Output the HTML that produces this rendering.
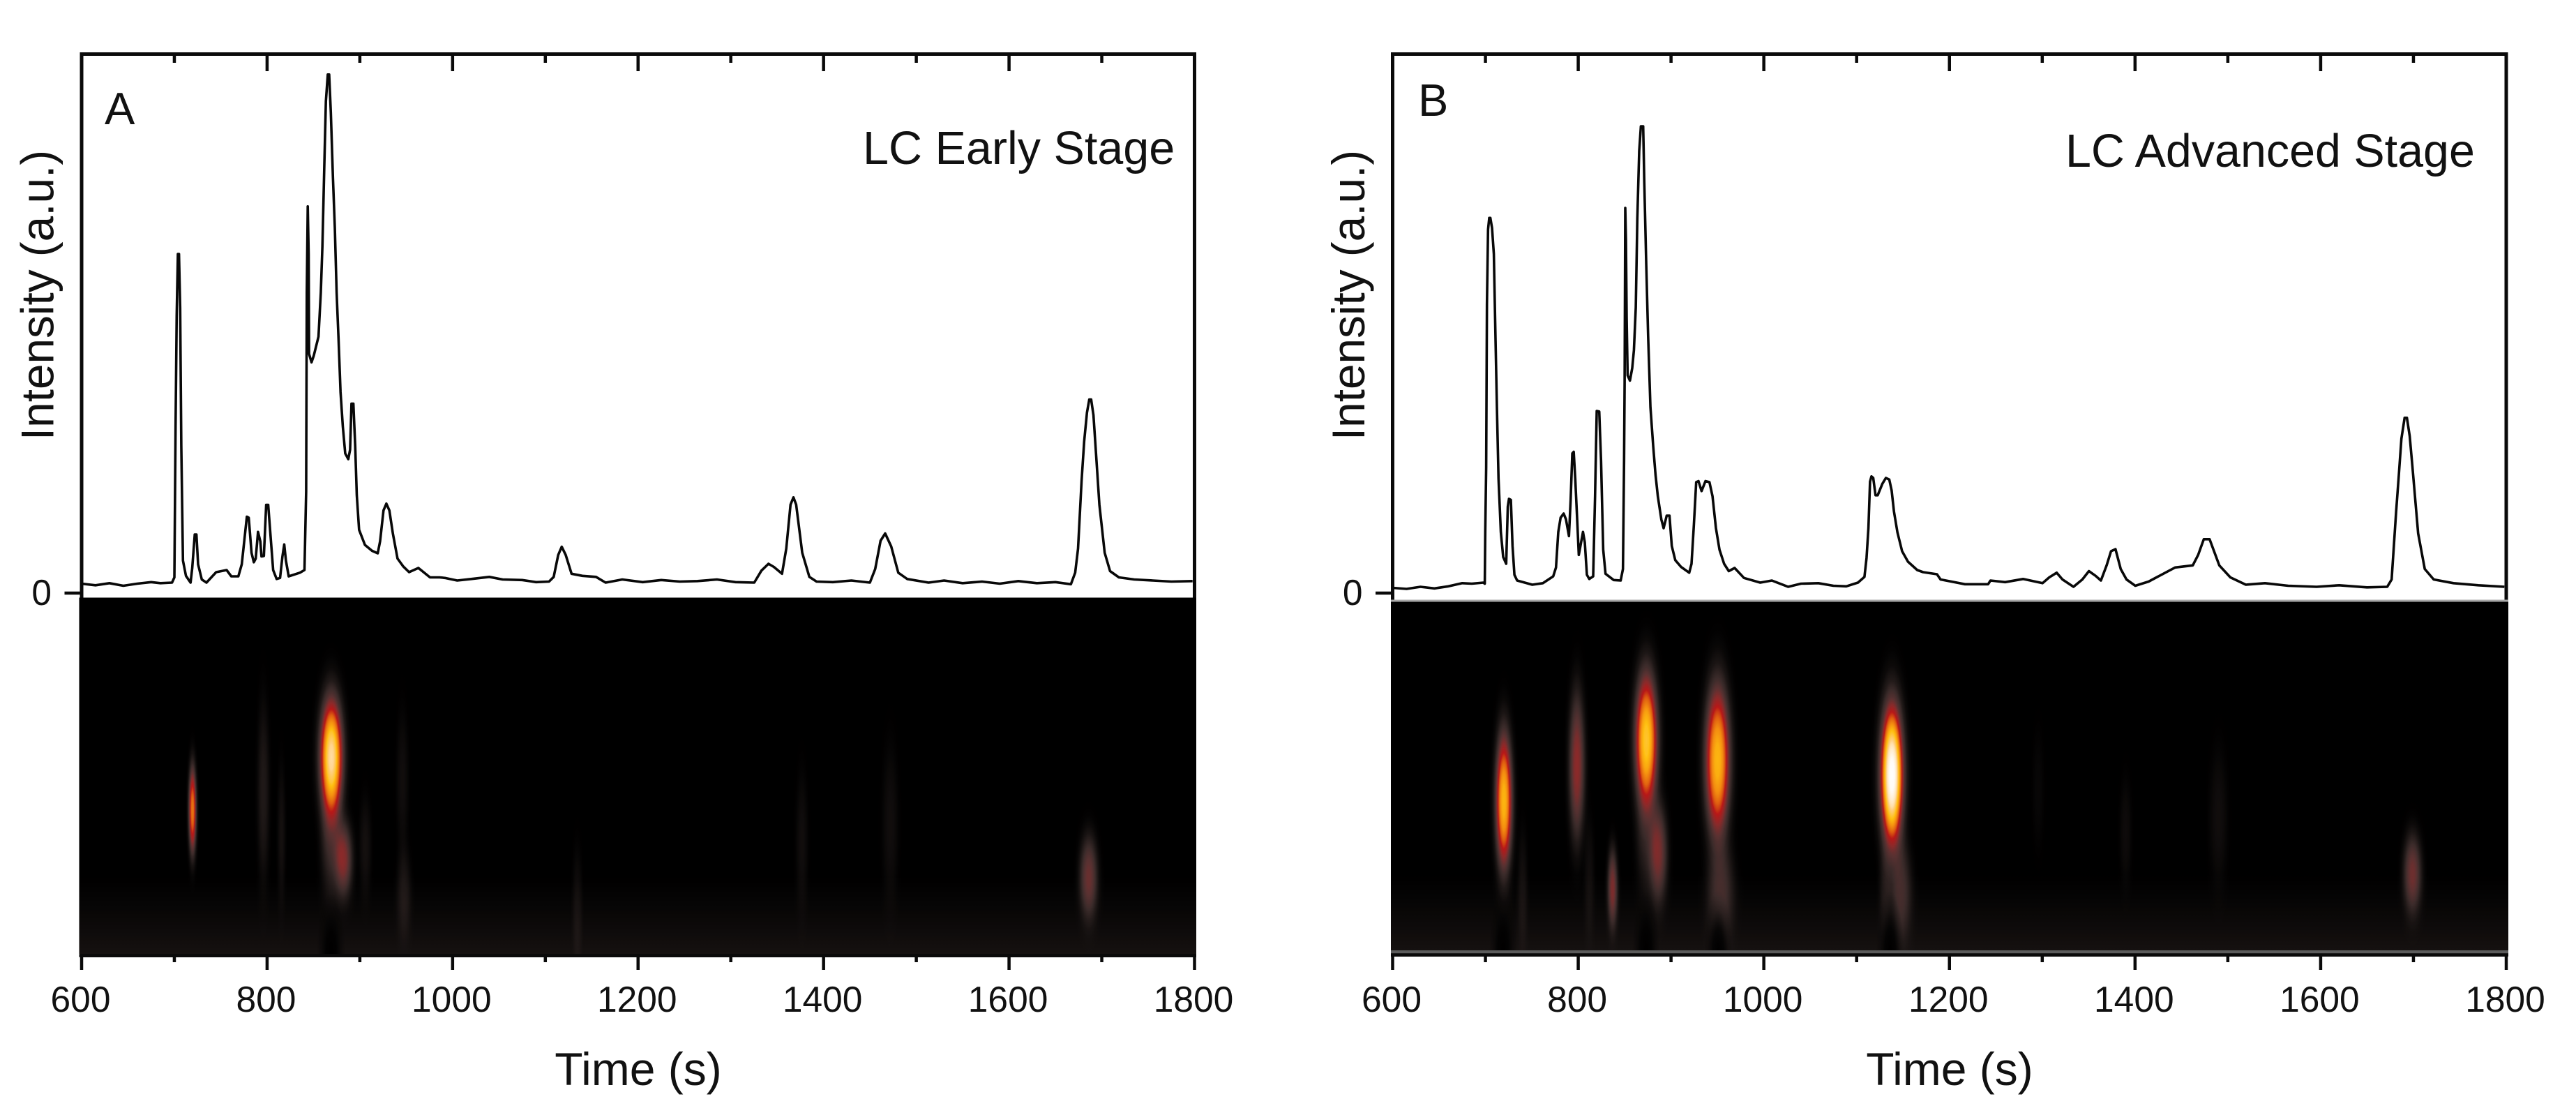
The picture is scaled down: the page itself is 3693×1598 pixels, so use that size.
<!DOCTYPE html>
<html lang="en">
<head>
<meta charset="utf-8">
<title>LC Early and Advanced Stage chromatograms</title>
<style>
html,body{margin:0;padding:0;background:#fff;width:3693px;height:1598px;overflow:hidden}
svg{display:block;position:absolute;left:0;top:0}
text{font-family:"Liberation Sans",sans-serif;fill:#111}
</style>
</head>
<body>
<svg id="figure" xmlns="http://www.w3.org/2000/svg" width="3693" height="1598" viewBox="0 0 3693 1598">
  <defs>
    <radialGradient id="spot-gradient">
      <stop offset="0" stop-color="#fff" stop-opacity="1"/>
      <stop offset=".1" stop-color="#fff" stop-opacity=".98"/>
      <stop offset=".2" stop-color="#fff" stop-opacity=".886"/>
      <stop offset=".3" stop-color="#fff" stop-opacity=".705"/>
      <stop offset=".4" stop-color="#fff" stop-opacity=".479"/>
      <stop offset=".5" stop-color="#fff" stop-opacity=".268"/>
      <stop offset=".6" stop-color="#fff" stop-opacity=".121"/>
      <stop offset=".7" stop-color="#fff" stop-opacity=".043"/>
      <stop offset=".8" stop-color="#fff" stop-opacity=".012"/>
      <stop offset=".9" stop-color="#fff" stop-opacity=".002"/>
      <stop offset="1" stop-color="#fff" stop-opacity="0"/>
    </radialGradient>
    <radialGradient id="notch-gradient">
      <stop offset="0" stop-color="#000" stop-opacity="1"/>
      <stop offset=".4" stop-color="#000" stop-opacity=".8"/>
      <stop offset=".7" stop-color="#000" stop-opacity=".3"/>
      <stop offset="1" stop-color="#000" stop-opacity="0"/>
    </radialGradient>
    <linearGradient id="glow-gradient" x1="0" y1="0" x2="0" y2="1">
      <stop offset="0" stop-color="#fff" stop-opacity="0"/>
      <stop offset=".45" stop-color="#fff" stop-opacity=".03"/>
      <stop offset="1" stop-color="#fff" stop-opacity=".075"/>
    </linearGradient>
    <filter id="heat-colormap" filterUnits="userSpaceOnUse" x="0" y="800" width="3693" height="700" color-interpolation-filters="sRGB">
      <feComponentTransfer>
        <feFuncR type="table" tableValues="0 .114 .231 .353 .549 .722 .878 .96 1 1 1"/>
        <feFuncG type="table" tableValues="0 .09 .169 .196 .165 .094 .376 .565 .753 .812 1"/>
        <feFuncB type="table" tableValues="0 .086 .165 .196 .165 .094 .063 .063 .063 .5 1"/>
      </feComponentTransfer>
    </filter>
    <clipPath id="clip-heat-a"><rect x="113.5" y="856.5" width="1601.5" height="511"/></clipPath>
    <clipPath id="clip-heat-b"><rect x="1994" y="862.5" width="1602" height="499.5"/></clipPath>
  </defs>

  <text x="150" y="178" font-size="65">A</text>
  <text x="1237" y="235" font-size="66.5">LC Early Stage</text>
  <text transform="translate(76.5 423) rotate(-90)" text-anchor="middle" font-size="65.7">Intensity (a.u.)</text>
  <text x="915" y="1555" text-anchor="middle" font-size="66">Time (s)</text>

  <text x="2033" y="166" font-size="65">B</text>
  <text x="2961" y="239" font-size="66.4">LC Advanced Stage</text>
  <text transform="translate(1956 423) rotate(-90)" text-anchor="middle" font-size="65.7">Intensity (a.u.)</text>
  <text x="2795" y="1555" text-anchor="middle" font-size="66">Time (s)</text>
</svg>

<script>
// Shared axis data
const majorTicks = [600, 800, 1000, 1200, 1400, 1600, 1800];
const minorTicks = [700, 900, 1100, 1300, 1500, 1700];
const majorTickLabels = ["600", "800", "1000", "1200", "1400", "1600", "1800"];
const yTicks = [0];
const yTickLabels = ["0"];

// Panel A chromatogram: retention time (s) and intensity (a.u.)
const timeA = [600,615,630,645,660,675,685,697.5,700,701.3,702.5,703.8,705,706.3,707.5,709.3,712.5,717.5,719.3,722,723.8,725.6,729.6,734.6,745.1,756.4,761.4,769,772.7,778.2,780.2,783.2,785.7,787.7,790.2,792.7,794,796.5,799,801.2,803.2,806.5,810.3,814,816.5,818.5,820.3,823.3,835.3,840.3,842.1,842.8,843.8,844.8,845.3,847.9,850.4,855.4,857.9,859.6,861.6,863.4,865.4,866.9,868.7,871,873,875,877,879.2,881.7,884.2,887.5,889.5,891,893,895,896.7,899.2,905.5,913,919.3,921.8,925.5,928.6,931.8,935.6,940.6,946.8,953.1,963.1,975.7,986,991.6,1005,1020,1039.6,1054,1075,1090,1104,1109,1113.9,1117.7,1122,1128.3,1140,1154.7,1165,1183,1205,1225,1245,1264,1285,1305,1325.3,1333,1340.6,1346.4,1355.2,1359.8,1364.4,1367.5,1370.5,1377,1384.7,1392.4,1410,1430,1450,1455.7,1461.5,1466.4,1473,1480.6,1490.2,1513.2,1530,1550,1570.8,1590,1610,1630,1650,1666.7,1671.3,1674.4,1678.2,1681,1684,1686.5,1688.5,1691,1694,1697.4,1703.1,1708.9,1718.5,1735,1755,1775,1797.9];
const intensityA = [1.8,1.5,1.9,1.4,1.8,2.1,1.9,2,3,31.8,53,64.8,64.8,54.5,28.2,6.2,3.3,2,4.8,11.2,11.2,5.5,2.6,2,4,4.4,3.2,3.2,5.5,14.6,14.4,7.7,5.9,6.6,11.7,9.9,7,7.1,16.85,16.85,12.1,4.4,2.7,2.9,7,9.3,6.2,3.2,3.9,4.4,19.4,57.4,73.9,64.8,45.7,44.1,45.4,49,57.4,66.2,80.9,94,99.1,99.1,91.8,79.4,69.9,57.4,48.7,38.4,31.8,26.7,25.6,27.4,36.2,36.2,28.2,18.7,12.1,9.2,8.1,7.6,9.9,15.8,17.1,15.8,11.4,6.6,5.1,4,4.8,3,3,2.9,2.4,2.7,3.1,2.6,2.5,2.1,2.2,3.1,7.3,8.85,7.3,3.7,3.3,3.1,2,2.6,2.1,2.5,2.2,2.3,2.6,2.1,2,4.3,5.6,5,3.7,8.5,16.9,18.3,16.9,7.7,3.1,2.2,2.1,2.4,2,4.6,10,11.4,8.9,3.9,2.7,2,2.4,1.9,2.2,1.8,2.3,1.9,2.1,1.7,3.9,8.5,21.5,29,34.5,37,37,34,26,16.9,7.7,4.2,3,2.6,2.4,2.2,2.3];

// Panel B chromatogram: retention time (s) and intensity (a.u.)
const timeB = [600,615,630,645,660,675,685.3,697.8,699.3,699.8,700.8,701.6,702.8,704.1,705.3,707.1,709.1,710.4,712.4,714.1,716.6,719.1,722.4,724.1,725.4,727.4,729.2,731.2,734.2,750.5,762,773,776,778.5,781,784.3,786.8,790,791.8,793.6,795.1,796.8,798.6,800.6,803.1,805.1,807.1,809.3,811.9,816.1,818.1,819.9,822.6,824.6,826.9,829.4,838.2,845.7,848.2,849.4,850,850.7,851.4,852.2,853.2,855.7,858.2,860,862,863.7,865.7,867.5,870,871.2,873.3,875.3,877.8,880.8,883.3,885.8,889.5,892,895.3,898.3,900.8,904.6,910.8,919.6,922.1,924.6,927.1,929.6,932.9,937.1,941.4,944.7,948.4,952.2,957.2,962.2,968.5,978.6,996.1,1008.7,1026.2,1040,1058.8,1075,1088.9,1101.4,1108.4,1110.7,1112.7,1114.4,1115.9,1117.9,1120.4,1122.7,1127.7,1131.5,1135.2,1137.7,1140.2,1144,1149,1155.3,1165.3,1171.6,1186.6,1190.4,1216.7,1241.7,1244.2,1260,1279.3,1300.3,1307.5,1315.6,1321.8,1333.7,1343.2,1350.3,1357.5,1363.2,1369.4,1374.1,1378.9,1384.6,1390.8,1400.3,1414.6,1443.2,1462.2,1468,1474.1,1480.3,1490.8,1502.7,1519.4,1540,1565,1595.6,1620,1650,1671.8,1676.5,1681.3,1684,1687,1690.5,1693,1696,1699,1705.1,1712.2,1721.8,1743.2,1770,1798];
const intensityB = [1,.8,1.2,.9,1.3,1.9,1.8,2,1.8,11.7,24,55.2,69.5,71.7,71.7,69.8,64.8,52.5,35.5,21.9,11.7,6.9,5.6,16.5,18,17.8,9,3.5,2.4,1.6,1.9,3.2,4.9,11.7,14.4,15.2,14.1,10.9,17.8,26.7,27,21.9,15.1,7.3,9.7,11.7,9.7,3.5,2.7,3.2,18.5,34.8,34.7,25.3,8.3,3.7,2.5,2.4,4.6,25.3,40.3,73.6,67.5,52.5,41.6,40.6,43,46.4,54.6,71.6,84.5,89.2,89.2,78.4,62.7,49.1,35.5,28,22.6,18.5,14.1,12.4,14.8,14.8,9,6.3,5,3.9,5.6,13.1,21.2,21.4,19.5,21.4,21.2,18.5,12.4,8.3,5.6,4.2,4.8,2.9,2,2.4,1.2,1.8,1.9,1.4,1.3,2,3.1,6.7,12.4,21.3,22.3,22,18.7,18.7,20.9,22,21.7,19.6,15.6,11.6,8,6,4.4,4,3.6,2.6,1.7,1.7,2.4,2.1,2.7,1.9,3,3.9,2.6,1.2,2.6,4.2,3.3,2.4,5.3,8,8.4,4.6,2.6,1.4,2.2,4.9,5.3,7.3,10.3,10.3,5.3,3,1.6,1.9,1.4,1.2,1.5,1.1,1.2,2.6,15.5,22,29.5,33.5,33.5,30,24,11.4,4.6,2.6,1.9,1.5,1.2];

// Panel A heatmap spots: retention time (s), drift position (% of map height), spread in each, peak value (0-1)
const spotTimeA = [869.3, 869, 882.3, 719.6, 796, 815.5, 946, 947.6, 1134.5, 906, 1376.7, 1472, 1685.9];
const spotDriftA = [44.8, 67, 73.4, 59.6, 54.6, 66.7, 51.5, 83, 87, 70, 68.7, 63.7, 78.4];
const spotSpreadTimeA = [8.8, 7.5, 6.8, 3, 4.5, 3, 4.5, 5.3, 3.8, 4.5, 4.5, 6, 6.8];
const spotSpreadDriftA = [12, 12, 7.5, 8.8, 17.6, 13.7, 13.7, 8.8, 11.8, 9.8, 13.7, 15.7, 8.2];
const spotValueA = [.93, .2, .38, .64, .11, .07, .06, .1, .06, .07, .06, .06, .33];
const notchTimeA = [869];

// Panel B heatmap spots
const spotTimeB = [873.4, 950.1, 719.9, 1138, 1138, 798.6, 886.3, 873.4, 837, 953.5, 1147.7, 1131, 740, 812, 1699, 1489.9, 1389.9, 1295.6];
const spotDriftB = [39.8, 45.5, 57.1, 49.7, 49.7, 47, 72, 67, 82, 82.6, 82.6, 82.6, 82.5, 79.5, 77.9, 62, 66, 53.8];
const spotSpreadTimeB = [8.7, 9.5, 6.4, 9, 5.2, 6, 6.8, 7.5, 3.8, 10, 8, 4.5, 3.8, 3.8, 6.8, 6.8, 4.5, 4.5];
const spotSpreadDriftB = [14, 15.6, 14, 15, 9, 15, 10, 12, 8, 10, 10, 10, 12, 12, 8, 14, 11, 12];
const spotValueB = [.83, .78, .78, 1, .7, .4, .36, .14, .36, .22, .22, .1, .07, .06, .34, .06, .05, .03];
const notchTimeB = [719, 873, 951, 1136];

const SVG_NS = "http://www.w3.org/2000/svg";
const root = document.getElementById("figure");

function make(tag, parent, attrs) {
  const el = document.createElementNS(SVG_NS, tag);
  for (const key in attrs) el.setAttribute(key, attrs[key]);
  parent.appendChild(el);
  return el;
}

function drawPanel(id, opt) {
  const x = t => opt.left + (t - 600) * (opt.right - opt.left) / 1200;
  const y = v => 850 - v * 7.5;
  const drift = d => opt.mapTop + d / 100 * (opt.mapBottom - opt.mapTop);
  const spreadX = s => s * (opt.right - opt.left) / 1200;
  const spreadY = s => s / 100 * (opt.mapBottom - opt.mapTop);

  const g = make("g", root, {});
  
  

  // plot frame
  const frame = make("rect", g, {x: opt.left, y: 77.5, width: opt.right - opt.left, height: opt.axisY - 77.5, fill: "none", stroke: "#0a0a0a", "stroke-width": 5});
  
  

  // chromatogram line
  const d = opt.times.map((t, i) => (i ? "L" : "M") + x(t).toFixed(1) + " " + y(opt.values[i]).toFixed(1)).join("");
  const line = make("path", g, {d: d, fill: "none", stroke: "#080808", "stroke-width": 3.6, "stroke-linejoin": "round"});
  
  

  // heatmap
  const mapBox = make("g", g, {});
  
  
  if (opt.edge) {
    make("rect", mapBox, {x: opt.heatLeft, y: opt.mapTop - 3, width: opt.heatRight - opt.heatLeft, height: 4, fill: opt.edge});
    make("rect", mapBox, {x: opt.heatLeft, y: opt.mapBottom, width: opt.heatRight - opt.heatLeft, height: 5, fill: "#5c5c5c"});
  }
  const clip = make("g", mapBox, {"clip-path": "url(#clip-heat-" + id + ")"});
  const heat = make("g", clip, {filter: "url(#heat-colormap)"});
  make("rect", heat, {x: opt.heatLeft, y: opt.mapTop, width: opt.heatRight - opt.heatLeft, height: opt.mapBottom - opt.mapTop, fill: "#000"});
  const glowTop = drift(78);
  make("rect", heat, {x: opt.heatLeft, y: glowTop, width: opt.heatRight - opt.heatLeft, height: opt.mapBottom - glowTop, fill: "url(#glow-gradient)"});
  opt.spotTime.forEach((t, i) => {
    const spot = make("ellipse", heat, {
      cx: x(t), cy: drift(opt.spotDrift[i]),
      rx: 3 * spreadX(opt.spotSpreadTime[i]), ry: 3 * spreadY(opt.spotSpreadDrift[i]),
      fill: "url(#spot-gradient)", opacity: opt.spotValue[i]
    });
    
    
  });
  opt.notches.forEach(t => {
    const notch = make("ellipse", heat, {cx: x(t), cy: opt.mapBottom + 4, rx: 20, ry: 90, fill: "url(#notch-gradient)"});
    
    
  });

  // ticks
  const ticks = make("g", g, {stroke: "#0a0a0a", "stroke-width": 4.5});
  
  
  majorTicks.forEach((t, i) => {
    const tick = make("line", ticks, {x1: x(t), x2: x(t), y1: opt.axisY, y2: 1390});
    
    
    if (i > 0 && i < majorTicks.length - 1) {
      make("line", ticks, {x1: x(t), x2: x(t), y1: 77.5, y2: 102});
    }
    const label = make("text", g, {x: x(t) - 1.5, y: 1450, "text-anchor": "middle", "font-size": 51.5});
    label.textContent = majorTickLabels[i];
    
    
  });
  minorTicks.forEach(t => {
    const tick = make("line", ticks, {x1: x(t), x2: x(t), y1: opt.axisY, y2: 1379});
    
    
    make("line", ticks, {x1: x(t), x2: x(t), y1: 77.5, y2: 90});
  });
  make("line", ticks, {x1: opt.heatLeft, x2: opt.heatRight, y1: opt.axisY, y2: opt.axisY});

  yTicks.forEach((v, i) => {
    const tick = make("line", ticks, {x1: opt.left - 24.5, x2: opt.left, y1: y(v), y2: y(v)});
    
    
    const label = make("text", g, {x: opt.left - 43, y: y(v) + 17, "text-anchor": "end", "font-size": 51.5});
    label.textContent = yTickLabels[i];
    
    
  });
}

drawPanel("a", {
  left: 117, right: 1712.5, axisY: 1369.5, mapTop: 856.5, mapBottom: 1367, heatLeft: 113.5, heatRight: 1715,
  times: timeA, values: intensityA,
  spotTime: spotTimeA, spotDrift: spotDriftA, spotSpreadTime: spotSpreadTimeA, spotSpreadDrift: spotSpreadDriftA, spotValue: spotValueA,
  notches: notchTimeA, edge: null
});
drawPanel("b", {
  left: 1996.5, right: 3593, axisY: 1368.5, mapTop: 862.5, mapBottom: 1362, heatLeft: 1994, heatRight: 3596,
  times: timeB, values: intensityB,
  spotTime: spotTimeB, spotDrift: spotDriftB, spotSpreadTime: spotSpreadTimeB, spotSpreadDrift: spotSpreadDriftB, spotValue: spotValueB,
  notches: notchTimeB, edge: "#a8a8a8"
});
</script>
</body>
</html>
